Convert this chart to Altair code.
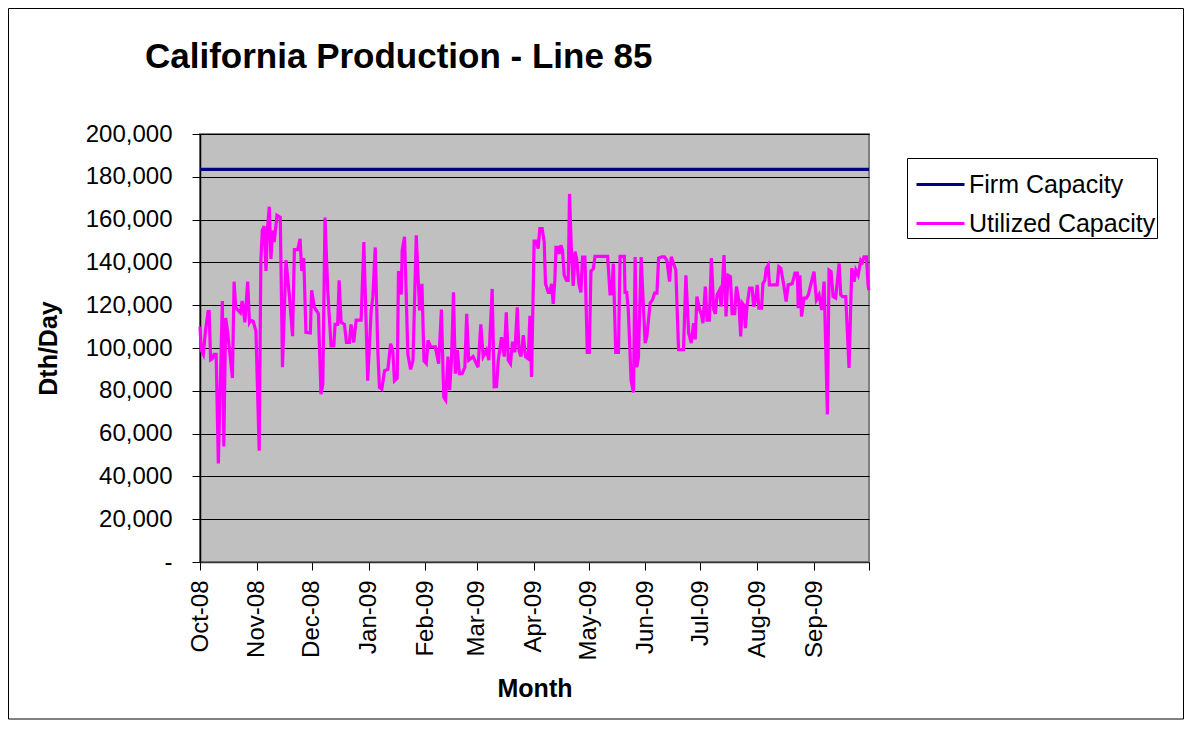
import altair as alt
import pandas as pd

# ---------------- data ----------------
# day offsets from 1 Oct 2008 and Utilized Capacity (Dth/Day)
day_offsets = [
    0, 0.7, 1.8, 3, 4.4, 5, 5.8, 6.7, 7.7, 8.8, 10, 12.2, 13, 14, 15, 17.7, 18.6, 19.5, 20.4, 22,
    23, 24.5, 26, 27, 27.7, 29, 30.5, 32.3, 33.2, 34, 35, 36, 36.9, 37.8, 38.7, 39.6, 40.5, 42, 43.8, 45,
    46.9, 48.7, 50.5, 51.5, 53.3, 54.6, 55.5, 56.6,
    57.8, 60.2, 60.9, 62.4, 64.6, 66, 67, 68.2, 69.7, 71.5, 73, 73.7, 75.1, 75.9, 77, 78.8, 79.9, 81.5,
    82.4, 83.9, 85.2, 87.9, 89.4, 91.5, 93.4, 94.3, 95.6, 97, 97.9, 99.2, 100.7, 102.5, 104, 105.2, 106.1,
    107.6, 108.3, 109.8, 110.3, 111.6, 112.5, 113.4, 114.9, 116.2, 118, 119.8, 121.1, 122.2,
    123.5, 124.4, 125.9, 128.4, 130.2, 131.7, 133, 134, 135.3, 136.2, 137.2, 138.3, 139.3, 140.4, 141.5,
    143, 144.5, 145.5, 146.6, 149, 151.7, 153.2, 154.5, 156.3, 157.6, 159.4, 160.5, 161.8, 162.7, 164.5,
    166, 167.1, 168.2, 169.4, 170.5, 171.8, 173.1, 174, 175.1, 176.4, 177.6, 179.1, 180, 180.9,
    182.3, 183.6, 184.5, 185.4, 186.7, 187.8, 188.5, 190, 190.9, 191.8, 192.7, 193.6, 194.2, 195.1, 196,
    196.9, 197.8, 198.7, 200, 200.9, 201.6, 202.7, 203.6, 204.6, 205.5, 206.7, 207.8, 208.7, 210, 211.3,
    212.4, 213.3, 214.6, 215.5, 222.4, 223.7, 224.6, 225.5, 226.8, 228.3, 229.2, 231.5, 231.9, 232.8,
    233.7, 235.2, 236.5, 237.4, 238.3, 239.2, 240.7,
    242, 242.9, 243.8, 245.6, 246.9, 248, 249.3, 250.2, 252, 253.4, 254.7, 256.2, 257.1, 258.4, 259.6,
    261.1, 263.8, 265.1, 266.6, 268, 269.3, 270.2, 271.1, 272.6, 273.5, 274.4, 275.7, 276.6, 277.9, 279,
    280.3, 281.2, 282.1, 283.4, 284.4, 285.9, 287, 288.1, 289.4, 290.3, 291.7, 292.7, 293.9, 295, 295.8,
    296.7, 297.6, 298.5, 299.8, 301.2, 302.1,
    303.1, 304, 304.9, 306.4, 307.1, 308.2, 308.9, 310, 310.7, 314.9, 315.8, 316.9, 318.4, 319.8, 320.9,
    323.1, 324.6, 325.9, 326.4, 327.3, 328.2, 329.5, 330.8, 331.9, 333.2, 335, 336.3, 337.7, 339.2, 340.5,
    342.3, 343.2, 344.3, 345.4, 346.8, 348.7, 349.6, 350.5, 352.3, 354.1, 355.6, 356.9, 357.8, 359.1,
    360.5, 361.4, 362.3, 363.6, 364.5, 364.9,
]
utilized = [
    110000, 99000, 97000, 108000, 117000, 117000, 94500, 95000, 97000, 97000, 46000, 122000, 54000, 114000, 108000, 86000, 131000, 119000, 118000, 116500,
    122000, 112000, 131000, 112000, 113000, 112500, 108000, 52000, 141000, 155000, 157000, 136000, 157000, 166000, 141600, 155000, 149500, 162000, 161000, 91000,
    141000, 125000, 105500, 146000, 146000, 151000, 136000, 142000,
    107300, 107000, 127000, 119000, 116000, 78400, 83000, 161000, 127000, 101000, 101000, 111000, 111000, 131600, 112000, 111000, 102600, 102600,
    111000, 102600, 113000, 113000, 149500, 84700, 117500, 124000, 147000, 98800, 81600, 80800, 89400, 90000, 102000, 98800, 84700,
    86000, 136000, 125000, 145600, 152000, 125000, 97000, 90000, 94000, 152700, 117500, 130000, 94000,
    92700, 103600, 100500, 100500, 92700, 118000, 77000, 75700, 96000, 80300, 94300, 126000, 88000, 99000, 88000,
    88000, 91000, 116000, 94300, 96000, 91000, 111000, 96000, 99000, 94300, 127600, 81900, 82000, 94000, 105000,
    96000, 116700, 94300, 92700, 103000, 98000, 119000, 99000, 96000, 106000, 96000, 95000, 115000, 86500,
    150000, 150000, 146400, 155800, 155800, 149500, 130000, 126000, 126000, 130000, 120600, 131600, 147000, 147000, 144000,
    148000, 145600, 134000, 131600, 131600, 172000, 144000, 129000, 145000, 141700, 130000, 126000, 142500, 142500, 98000,
    98000, 136000, 137000, 142800, 142800, 125300, 125300, 139400, 98000, 98000, 142800, 142800, 126000, 126000,
    117500, 84700, 79200, 142500, 91000, 95600, 142500,
    117800, 102300, 105400, 121000, 122500, 125600, 125600, 142000, 142600, 142600, 141000, 131000, 142600, 139500, 136400,
    99200, 99200, 134000, 107000, 102300, 111600, 104000, 124000, 117800, 116000, 111600, 128700, 113000, 113000, 142000,
    117800, 116000, 124800, 127000, 119400, 143400, 114700, 134000, 133300, 116000, 116000, 128700, 122500, 105400, 121000,
    120000, 109300, 120000, 128000, 128000, 119400,
    122500, 129500, 118600, 118600, 130000, 131800, 137200, 138800, 129500, 129500, 138000, 137200, 130000, 121700, 129500,
    130000, 135000, 135000, 118600, 134000, 114700, 123300, 123300, 124800, 129500, 135700, 122500, 124800, 117800, 131000,
    69000, 136400, 135700, 124000, 123300, 139500, 124800, 124000, 124000, 90700, 137200, 131000, 136400, 134000,
    141000, 140000, 142600, 142600, 129500, 127000,
]
firm_days = [0, 365]
firm_capacity = [183500, 183500]

series_names = ["Firm Capacity", "Utilized Capacity"]
series_colors = ["#000080", "#FF00FF"]
y_ticks = [0, 20000, 40000, 60000, 80000, 100000, 120000, 140000, 160000, 180000, 200000]
month_starts = pd.date_range("2008-10-01", "2009-10-01", freq="MS", tz="UTC")
chart_title = "California Production - Line 85"

# ---------------- build table ----------------
base_ms = pd.Timestamp("2008-10-01", tz="UTC").value // 10**6
DAY_MS = 86400000
rows = []
for d, v in zip(firm_days, firm_capacity):
    rows.append({"t": base_ms + d * DAY_MS, "value": v, "series": series_names[0]})
for d, v in zip(day_offsets, utilized):
    rows.append({"t": base_ms + d * DAY_MS, "value": v, "series": series_names[1]})
df = pd.DataFrame(rows)

month_ms = [int(m.value // 10**6) for m in month_starts]
end_ms = month_ms[-1]

FONT = "Liberation Sans"
NB = "\u00a0"

x_enc = alt.X(
    "t:T",
    scale=alt.Scale(type="utc", domain=[month_ms[0], end_ms]),
    axis=alt.Axis(
        values=month_ms,
        labelExpr=f"datum.value >= {end_ms} ? '' : utcFormat(datum.value, '%b-%y')",
        grid=False,
        tickSize=8,
        tickColor="black",
        domainColor="#333333",
        domainWidth=1.5,
        labelAngle=270,
        labelAlign="right",
        labelBaseline="middle",
        labelPadding=10,
        labelFontSize=24,
        labelFont=FONT,
        labelColor="black",
        labelOverlap=False,
        labelFlush=False,
        labelBound=False,
        title="Month",
        titleFont=FONT,
        titleFontSize=25,
        titleFontWeight="bold",
        titleColor="black",
        titleY=126,
        titleBaseline="middle",
    ),
)

y_enc = alt.Y(
    "value:Q",
    scale=alt.Scale(domain=[0, 200000], nice=False),
    axis=alt.Axis(
        values=y_ticks,
        labelExpr=f"datum.value == 0 ? '-{NB}{NB}{NB}{NB}' : format(datum.value, ',')",
        grid=True,
        gridColor="black",
        gridWidth=1,
        tickSize=8,
        tickColor="black",
        domainColor="black",
        domainWidth=1.5,
        labelPadding=20,
        labelFontSize=24,
        labelFont=FONT,
        labelColor="black",
        labelFlush=False,
        labelOverlap=False,
        title="Dth/Day",
        titleFont=FONT,
        titleFontSize=25,
        titleFontWeight="bold",
        titleColor="black",
        titleAngle=270,
        titleX=-152,
        titleY=214,
        titleBaseline="middle",
    ),
)

lines = alt.Chart(df).mark_line(strokeWidth=3.2).encode(
    x=x_enc,
    y=y_enc,
    color=alt.Color(
        "series:N",
        scale=alt.Scale(domain=series_names, range=series_colors),
        legend=alt.Legend(
            title=None,
            orient="none",
            legendX=707,
            legendY=24,
            symbolType="stroke",
            symbolSize=2304,
            symbolStrokeWidth=3,
            symbolOffset=7,
            labelFont=FONT,
            labelFontSize=25,
            labelColor="black",
            labelOffset=3,
            labelLimit=400,
            labelExpr=f"datum.label + '{NB}{NB}'",
            strokeColor="black",
            fillColor="white",
            padding=1,
            rowPadding=0,
        ),
    ),
    detail="series:N",
)

border = alt.Chart(alt.Data(values=[{}])).mark_rect(
    fillOpacity=0, stroke="black", strokeWidth=1
).encode(
    x=alt.value(-191.5), x2=alt.value(983.5), y=alt.value(-125.5), y2=alt.value(585)
)

title_text = alt.Chart(alt.Data(values=[{"label": chart_title}])).mark_text(
    align="left", baseline="alphabetic", font=FONT, fontSize=35, fontWeight="bold", color="black"
).encode(
    x=alt.value(-55), y=alt.value(-66), text="label:N"
)

chart = (
    alt.layer(border, lines, title_text)
    .properties(
        width=669,
        height=428,
        autosize=alt.AutoSizeParams(type="none"),
        padding={"left": 192, "top": 126, "right": 315, "bottom": 158},
        background="white",
    )
    .configure_view(fill="#C0C0C0", stroke="#808080", strokeWidth=2)
)

chart.save("out.html", embed_options={"renderer": "svg", "actions": False})
